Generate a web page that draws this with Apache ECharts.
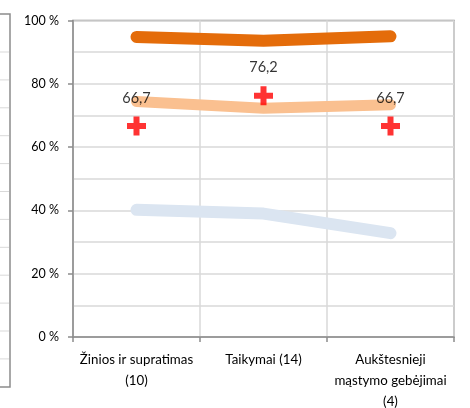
<!DOCTYPE html>
<html><head><meta charset="utf-8">
<script src="https://cdn.jsdelivr.net/npm/echarts@6/dist/echarts.min.js"></script>
<style>html,body{margin:0;padding:0;background:#fff}#c{width:470px;height:408px}</style>
</head><body><div id="c"></div>
<script>
const categories = ['Žinios ir supratimas\n(10)', 'Taikymai (14)', 'Aukštesnieji\nmąstymo gebėjimai\n(4)'];
const darkOrange = [94.8, 93.6, 95.0];
const lightOrange = [74.4, 72.3, 73.4];
const lightBlue = [40.2, 39.0, 32.8];
const crosses = [66.7, 76.2, 66.7];
const yTicks = [0, 20, 40, 60, 80, 100];

const font = 'Lato, "Open Sans", sans-serif';
const chart = echarts.init(document.getElementById('c'));

const leftFrameLines = [];
for (let i = 0; i < 12; i++) {
  const y = 52 + i * 27.9;
  leftFrameLines.push({type: 'line', shape: {x1: -5, y1: y, x2: 9, y2: y}, style: {stroke: '#D9D9D9', lineWidth: 1}, silent: true});
}

chart.setOption({
  animation: false,
  backgroundColor: '#fff',
  graphic: [
    {type: 'rect', shape: {x: -10, y: 14, width: 20, height: 373}, style: {fill: 'none', stroke: '#8C8C8C', lineWidth: 1.5}, silent: true}
  ].concat(leftFrameLines),
  grid: {left: 73, right: 16, top: 20.5, bottom: 71, containLabel: false, outerBoundsMode: 'none',
    show: true, borderColor: '#8C8C8C', borderWidth: 1.5, backgroundColor: 'transparent'},
  xAxis: {
    type: 'category', data: categories, boundaryGap: true,
    axisLine: {lineStyle: {color: '#8C8C8C', width: 1.5}},
    axisTick: {show: true, length: 5, lineStyle: {color: '#8C8C8C', width: 1.5}},
    splitLine: {show: true, lineStyle: {color: '#D9D9D9', width: 1.5}},
    axisLabel: {color: '#000', fontFamily: font, fontSize: 13.3, lineHeight: 21, margin: 12, interval: 0}
  },
  yAxis: {
    type: 'value', min: 0, max: 100, interval: 20,
    axisLine: {show: true, lineStyle: {color: '#8C8C8C', width: 1.5}},
    axisTick: {show: true, length: 5, lineStyle: {color: '#8C8C8C', width: 1.5}},
    splitLine: {show: true, lineStyle: {color: '#D9D9D9', width: 1.5}},
    minorSplitLine: {show: true, lineStyle: {color: '#D9D9D9', width: 1.5}},
    minorTick: {show: false, splitNumber: 2},
    axisLabel: {color: '#000', fontFamily: font, fontSize: 12.5, margin: 14,
      formatter: v => yTicks.includes(v) ? v + ' %' : ''}
  },
  series: [
    {type: 'line', data: lightBlue, symbol: 'none', lineStyle: {color: '#DBE5F1', width: 12, cap: 'round', join: 'round'}, z: 2},
    {type: 'line', data: lightOrange, symbol: 'none', lineStyle: {color: '#FAC090', width: 11, cap: 'round', join: 'round'}, z: 2},
    {type: 'line', data: darkOrange, symbol: 'none', lineStyle: {color: '#E46C0A', width: 12, cap: 'round', join: 'round'}, z: 3},
    {type: 'scatter', data: crosses, symbol: 'path://M6.5,0H12.5V6.5H19V12.5H12.5V19H6.5V12.5H0V6.5H6.5Z', symbolSize: 19,
      itemStyle: {color: '#FF0000'}, z: 5,
      label: {show: true, position: 'top', distance: 11, color: '#000', fontFamily: font, fontSize: 14.5,
        formatter: p => p.value.toFixed(1).replace('.', ',')}}
  ]
});
</script></body></html>
